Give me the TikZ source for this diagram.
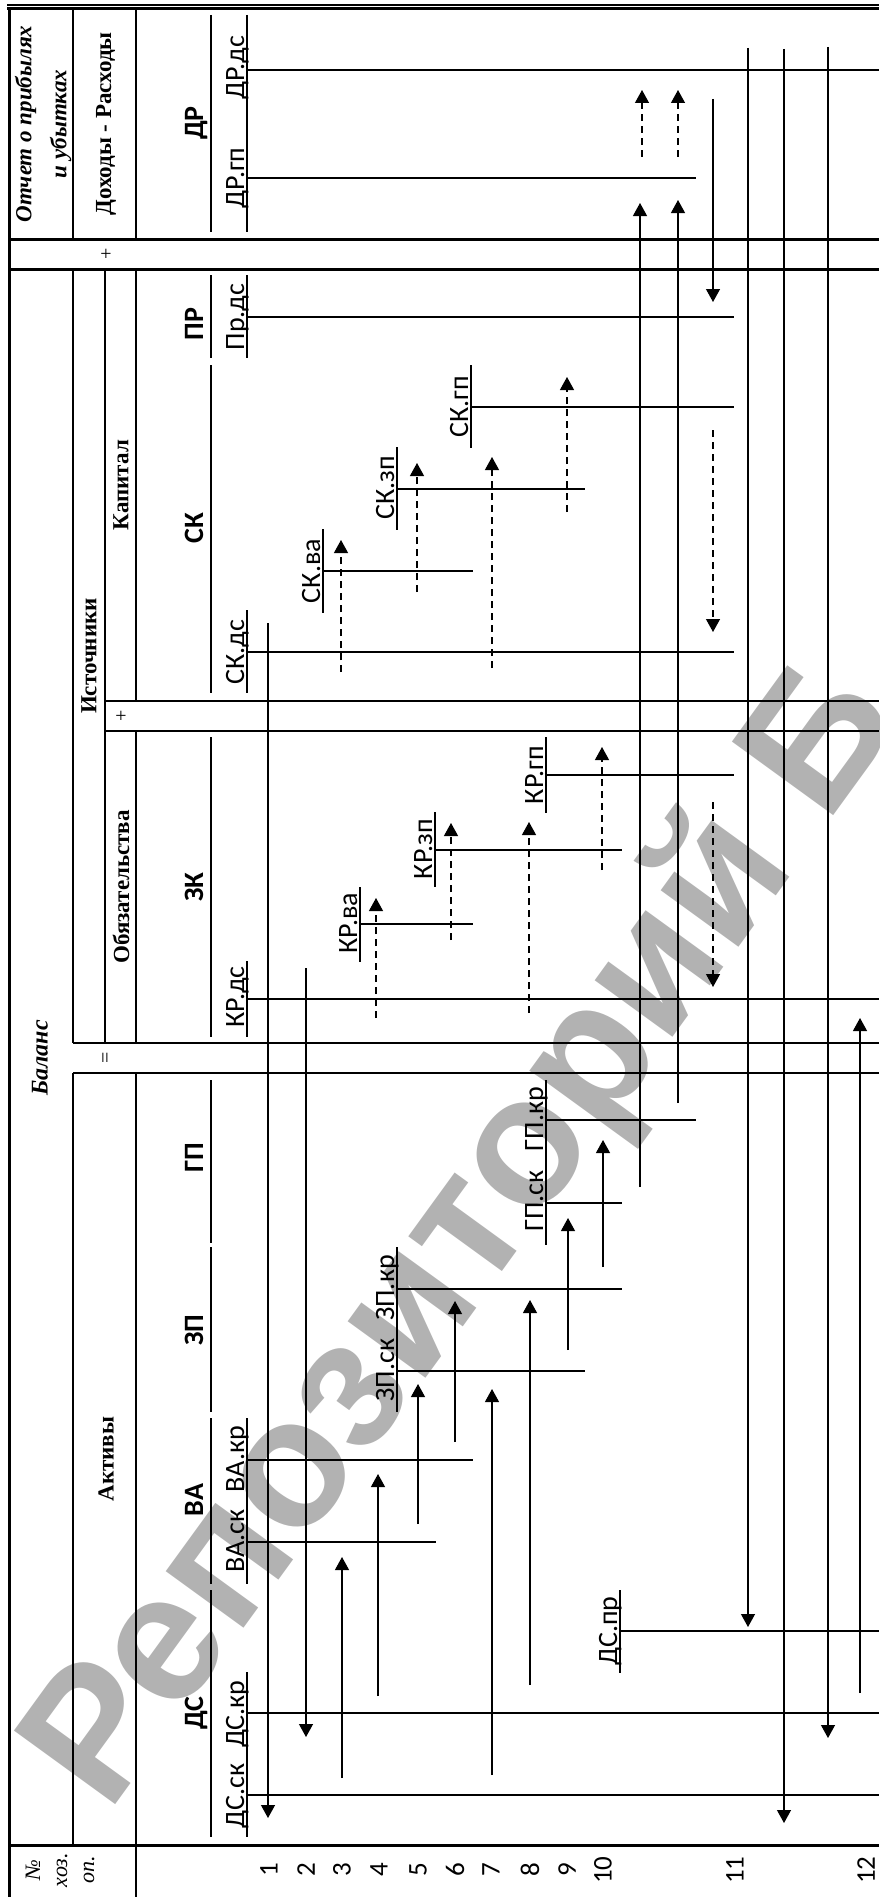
\documentclass[tikz,border=0pt]{standalone}
\usepackage{fontspec}
\setmainfont{Liberation Serif}
\newfontfamily\carl{Carlito}
\newfontfamily\wmf{Liberation Sans}
\usetikzlibrary{arrows.meta}
\begin{document}
\begin{tikzpicture}[x=1pt,y=-1pt,
  frame/.style={line width=3pt},
  gridA/.style={line width=2.6pt},
  gridB/.style={line width=1.6pt},
  hline/.style={line width=1.6pt},
  sub/.style={line width=1.6pt},
  acc/.style={line width=1.9pt},
  accthin/.style={line width=1.4pt},
  opl/.style={line width=1.2pt},
  opa/.style={opl,-{Triangle[length=13pt,width=14pt]}},
  dsh/.style={opa,dash pattern=on 7pt off 5pt},
  lbl/.style={rotate=90,anchor=base,inner sep=0pt,font=\carl\fontsize{28}{28}\selectfont},
  hdr/.style={rotate=90,anchor=base,inner sep=0pt,font=\carl\bfseries\fontsize{28}{28}\selectfont},
  ser/.style={rotate=90,inner sep=0pt,font=\bfseries\fontsize{23}{35}\selectfont,align=center},
  num/.style={rotate=90,inner sep=0pt,font=\carl\fontsize{27}{27}\selectfont},
]
\useasboundingbox (0,0) rectangle (879,1897);
% watermark
\begin{scope}
\clip (0,0) rectangle (879,1897);
\node[rotate=54,anchor=base west,inner sep=0pt,text=black!30,font=\wmf\bfseries\fontsize{182}{182}\selectfont] (wm) at (108,1815) {Репозиторий Б};
\end{scope}
% frame
\draw[line width=1.2pt] (7,5) -- (879,5);
\draw[frame] (7,9) -- (879,9);
\draw[frame] (9,7.5) -- (9,1897);
\draw[gridA] (73,9) -- (73,239);
\draw[gridB] (136,9) -- (136,239);
\draw[frame] (9,239) -- (879,239);
\draw[frame] (9,269) -- (879,269);
\draw[gridA] (73,269) -- (73,1043);
\draw[gridA] (73,1073) -- (73,1845);
\draw[gridB] (105,269) -- (105,1043);
\draw[gridA] (136,269) -- (136,701);
\draw[gridA] (136,731) -- (136,1043);
\draw[gridA] (136,1073) -- (136,1897);
\draw[hline] (105,701) -- (879,701);
\draw[hline] (105,731) -- (879,731);
\draw[hline] (73,1043) -- (879,1043);
\draw[hline] (73,1073) -- (879,1073);
\draw[frame] (9,1845) -- (879,1845);
% account header lines
\foreach \a/\b in {15/232,275/358,365/693,737/1037,1080/1243,1247/1412,1418/1584,1590/1837}
  \draw[sub] (211,\a) -- (211,\b);
% sub-account lines
\foreach \x/\a/\b in {247/15/232,247/275/358,247/610/693,247/961/1037,247/1418/1584,247/1672/1837,
  471/365/448,397/447/530,323/529/613,546/737/813,435/812/887,360/887/962,
  546/1080/1245,397/1247/1412,620/1590/1673}
  \draw[sub] (\x,\a) -- (\x,\b);
% account horizontal lines
\draw[accthin] (247,70) -- (879,70);
\draw[accthin] (247,178) -- (696,178);
\foreach \y/\a/\b in {317/247/734,407/471/734,489/397/585,571/323/473,652/247/734,
  775/546/734,850/435/622,924/360/473,999/247/879,
  1120/546/696,1203/546/622,1289/397/622,1371/397/585,1460/247/473,1542/247/436,
  1631/620/879,1713/247/879,1795/247/879}
  \draw[acc] (\a,\y) -- (\b,\y);
% texts
\node[ser,font=\bfseries\itshape\fontsize{23}{35}\selectfont] (opu) at (43,124) {Отчет о прибылях\\и убытках};
\node[ser] (dr) at (106,124) {Доходы - Расходы};
\node[ser,font=\fontsize{20}{20}\selectfont] (plus1) at (107,254) {+};
\node[ser,font=\bfseries\itshape\fontsize{24}{28}\selectfont] (bal) at (40,1058) {Баланс};
\node[ser] (ist) at (89,656) {Источники};
\node[ser] (kap) at (121,485) {Капитал};
\node[ser,font=\fontsize{20}{20}\selectfont] (plus2) at (122,716) {+};
\node[ser] (obz) at (121,887) {Обязательства};
\node[ser,font=\fontsize{20}{20}\selectfont] (eq) at (107,1058) {=};
\node[ser] (akt) at (106,1459) {Активы};
\node[ser,font=\itshape\fontsize{22}{27}\selectfont] (nho) at (60,1870) {№\\хоз.\\оп.};
% account names
\node[hdr] (hDR) at (203,123) {ДР};
\node[hdr] (hPR) at (203,324) {ПР};
\node[hdr] (hSK) at (203,528) {СК};
\node[hdr] (hZK) at (203,887) {ЗК};
\node[hdr] (hGP) at (203,1158) {ГП};
\node[hdr] (hZP) at (203,1330) {ЗП};
\node[hdr] (hVA) at (203,1500) {ВА};
\node[hdr] (hDS) at (203,1713) {ДС};
% sub labels
\node[lbl] (l1) at (244,68) {ДР.дс};
\node[lbl] (l2) at (244,178) {ДР.гп};
\node[lbl] (l3) at (244,317) {Пр.дс};
\node[lbl] (l4) at (468,407) {СК.гп};
\node[lbl] (l5) at (394,488) {СК.зп};
\node[lbl] (l6) at (320,571) {СК.ва};
\node[lbl] (l7) at (244,652) {СК.дс};
\node[lbl] (l8) at (543,775) {КР.гп};
\node[lbl] (l9) at (432,849) {КР.зп};
\node[lbl] (l10) at (357,923) {КР.ва};
\node[lbl] (l11) at (244,997) {КР.дс};
\node[lbl] (l12) at (543,1119) {ГП.кр};
\node[lbl] (l13) at (543,1201) {ГП.ск};
\node[lbl] (l14) at (394,1288) {ЗП.кр};
\node[lbl] (l15) at (394,1370) {ЗП.ск};
\node[lbl] (l16) at (244,1459) {ВА.кр};
\node[lbl] (l17) at (244,1541) {ВА.ск};
\node[lbl] (l18) at (617,1631) {ДС.пр};
\node[lbl] (l19) at (244,1714) {ДС.кр};
\node[lbl] (l20) at (244,1796) {ДС.ск};
% numbers
\foreach \n/\x in {1/269,2/306,3/342,4/379,5/418,6/455,7/491,8/530,9/567,10/603,11/735,12/866}
  \node[num] (n\n) at (\x,1870) {\n};
% solid arrows
\foreach \x/\a/\b in {268/623/1818,306/968/1737,342/1778/1557,378/1696/1474,418/1524/1384,
  455/1442/1301,492/1775/1389,530/1685/1300,568/1350/1218,603/1267/1140,
  640/1187/203,678/1103/200,713/99/302,748/48/1627,784/49/1823,828/47/1738,860/1693/1018}
  \draw[opa] (\x,\a) -- (\x,\b);
% dashed arrows
\foreach \x/\a/\b in {341/672/540,417/592/463,492/668/457,567/512/377,713/430/632,
  376/1018/898,451/940/823,529/1013/822,602/870/747,713/802/987,642/157/90,678/157/90}
  \draw[dsh] (\x,\a) -- (\x,\b);
\end{tikzpicture}
\end{document}
